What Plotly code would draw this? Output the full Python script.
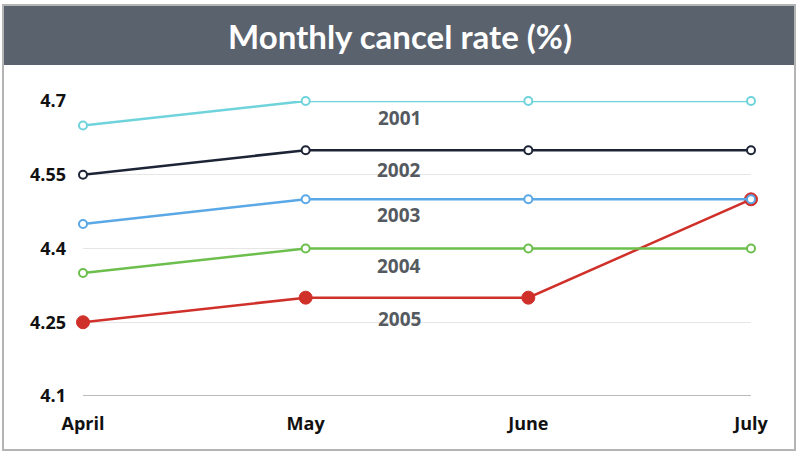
import plotly.graph_objects as go

months = ["April", "May", "June", "July"]
years = ["2001", "2002", "2003", "2004", "2005"]
values = {
    "2001": [4.65, 4.70, 4.70, 4.70],
    "2002": [4.55, 4.60, 4.60, 4.60],
    "2003": [4.45, 4.50, 4.50, 4.50],
    "2004": [4.35, 4.40, 4.40, 4.40],
    "2005": [4.25, 4.30, 4.30, 4.50],
}
y_ticks = [4.1, 4.25, 4.4, 4.55, 4.7]
y_ticktext = ["4.1", "4.25", "4.4", "4.55", "4.7"]
colors = {
    "2001": "#6fd3dc",
    "2002": "#1c2436",
    "2003": "#5aa8e6",
    "2004": "#6cbf4c",
    "2005": "#d0302a",
}
label_x = 1.42
label_shift = {"2001": -17, "2002": -20, "2003": -16, "2004": -17, "2005": -21}

xs = list(range(len(months)))
fig = go.Figure()

order = ["2005", "2004", "2003", "2002", "2001"]
for yr in order:
    c = colors[yr]
    if yr == "2005":
        marker = dict(size=13, color=c, line=dict(color=c, width=1))
    else:
        marker = dict(size=8, color="white", line=dict(color=c, width=2))
    fig.add_trace(go.Scatter(
        x=xs, y=values[yr], mode="lines+markers", name=yr,
        line=dict(color=c, width=2.5), marker=marker, cliponaxis=False,
        showlegend=False,
    ))

for yr in years:
    fig.add_annotation(
        x=label_x, y=values[yr][1], xref="x", yref="y",
        text="<b>" + yr + "</b>", showarrow=False, yshift=label_shift[yr],
        font=dict(family="Open Sans", size=19, color="#555a60"),
    )

L, R, T, B = 83, 49, 101, 59
W, H = 800, 455
pw, ph = W - L - R, H - T - B


def px(x):
    return (x - L) / pw


def py(y):
    return (H - B - y) / ph


fig.add_shape(type="rect", xref="paper", yref="paper",
              x0=px(3), x1=px(795), y0=py(65), y1=py(5),
              fillcolor="#5a626e", line=dict(width=0), layer="below")
fig.add_shape(type="rect", xref="paper", yref="paper",
              x0=px(3), x1=px(795), y0=py(450), y1=py(5),
              fillcolor="rgba(0,0,0,0)", line=dict(color="#b4b4b4", width=2))

fig.update_layout(
    width=W, height=H,
    margin=dict(l=L, r=R, t=T, b=B),
    paper_bgcolor="white", plot_bgcolor="white",
    title=dict(text="<b>Monthly cancel rate (%)</b>", x=400 / W, xanchor="center",
               y=1 - 37 / H, yanchor="middle",
               font=dict(family="Lato", size=33, color="white")),
    xaxis=dict(range=[0, 3], tickvals=xs, ticktext=["<b>%s</b>" % m for m in months],
               showgrid=False, zeroline=False, showline=False,
               tickfont=dict(family="Open Sans", size=18, color="#111"),
               ticklabelstandoff=15, fixedrange=True),
    yaxis=dict(range=[4.1, 4.7], tickvals=y_ticks,
               ticktext=["<b>%s</b>" % t for t in y_ticktext],
               showgrid=True, gridcolor="#e6e6e6", gridwidth=1, zeroline=False,
               tickfont=dict(family="Open Sans", size=18, color="#111"),
               ticklabelstandoff=16, fixedrange=True),
)
fig.add_shape(type="line", xref="x", yref="y", x0=0, x1=3, y0=4.1, y1=4.1,
              line=dict(color="#bbbbbb", width=2), layer="below")

fig.write_html("out.html", config={"displayModeBar": False},
               post_script="document.body.style.margin='0';document.body.style.overflow='hidden';")
